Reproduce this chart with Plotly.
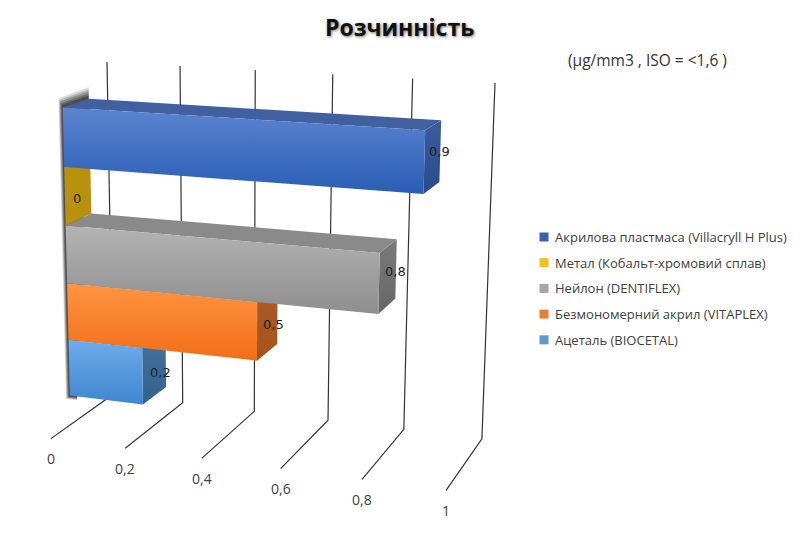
"""Faux-3D bar chart of solubility by denture material, drawn with Plotly."""

import numpy as np
import plotly.graph_objects as go

# Data, top bar first
MATERIALS = [
    "Акрилова пластмаса (Villacryll H Plus)",
    "Метал (Кобальт-хромовий сплав)",
    "Нейлон (DENTIFLEX)",
    "Безмономерний акрил (VITAPLEX)",
    "Ацеталь (BIOCETAL)",
]
SOLUBILITY = [0.9, 0.0, 0.8, 0.5, 0.2]
BAR_LABELS = ["0,9", "0", "0,8", "0,5", "0,2"]
TICK_VALUES = [0, 0.2, 0.4, 0.6, 0.8, 1]
TICK_LABELS = ["0", "0,2", "0,4", "0,6", "0,8", "1"]

TITLE = "Розчинність"
UNITS = "(µg/mm3 , ISO = <1,6 )"

# Colours per series: front top, front bottom, top face, side top, side bottom, legend
FRONT_TOP = ["#5b85d0", "#b8920f", "#b4b4b4", "#ff9442", "#6eaced"]
FRONT_BOTTOM = ["#2a5db4", "#b8920f", "#8e8e8e", "#f26e18", "#3f86cc"]
TOP_FACE = ["#40609f", "#9a7c10", "#8a8a8a", "#b5622a", "#44709f"]
SIDE_TOP = ["#3c5c9c", "#b8920f", "#7a7a7a", "#a85c28", "#44729f"]
SIDE_BOTTOM = ["#274b8c", "#b8920f", "#666666", "#a8521a", "#34628f"]
LEGEND_COLOURS = ["#3a62ad", "#f2c21a", "#a5a5a5", "#ed7d31", "#5b9bd5"]

# The view: where six corners of the axis box (value, height, depth) land on the page
BOX_CORNERS = [(0, 1, 1), (1, 1, 1), (0, 0, 1), (1, 0, 1), (0, 1, 0), (1, 1, 0)]
BOX_PIXELS = [(113, 395), (482, 438), (107, 62), (495, 83), (51, 438), (446, 491)]

# Where the bars sit inside the box
BARS_TOP, BARS_BOTTOM = 0.088, 0.913
BAR_FRONT, BAR_BACK = 0.30, 0.70

# Nudges for the bar labels, in pixels
LABEL_DX = [7, -1, 8, 6, 6]
LABEL_DY = [5, -8, 5, -1, -5]

# The page body keeps its default margin, so the figure starts this far in
PAGE_MARGIN = 8


def fit_view(corners, pixels):
    """Least-squares perspective matrix from box corners to page pixels."""
    rows, rhs = [], []
    for (a, b, c), (px, py) in zip(corners, pixels):
        rows.append([a, b, c, 1, 0, 0, 0, 0, -px * a, -px * b, -px * c])
        rows.append([0, 0, 0, 0, a, b, c, 1, -py * a, -py * b, -py * c])
        rhs += [px, py]
    m = np.linalg.lstsq(np.array(rows, float), np.array(rhs, float), rcond=None)[0]
    return np.append(m, 1.0).reshape(3, 4)


VIEW = fit_view(BOX_CORNERS, BOX_PIXELS)


def project(value, height, depth):
    u, w, t = VIEW @ np.array([value, height, depth, 1.0])
    return u / t, w / t


def face(points, colour=None, gradient=None):
    xy = [project(*p) for p in points] + [project(*points[0])]
    trace = go.Scatter(
        x=[p[0] for p in xy],
        y=[p[1] for p in xy],
        mode="lines",
        line=dict(width=0),
        fill="toself",
        hoverinfo="skip",
        showlegend=False,
    )
    if gradient:
        # gradient runs bottom to top on the reversed y axis
        trace.fillgradient = dict(
            type="vertical", colorscale=[[0, gradient[1]], [1, gradient[0]]]
        )
    else:
        trace.fillcolor = colour
    return trace


def bar_faces(i, value):
    band = (BARS_BOTTOM - BARS_TOP) / len(SOLUBILITY)
    s0, s1 = BARS_TOP + i * band, BARS_TOP + (i + 1) * band
    d0, d1 = BAR_FRONT, BAR_BACK
    side = face([(value, s0, d0), (value, s0, d1), (value, s1, d1), (value, s1, d0)],
                gradient=(SIDE_TOP[i], SIDE_BOTTOM[i]))
    top = face([(0, s0, d0), (value, s0, d0), (value, s0, d1), (0, s0, d1)], colour=TOP_FACE[i])
    front = face([(0, s0, d0), (value, s0, d0), (value, s1, d0), (0, s1, d0)],
                 gradient=(FRONT_TOP[i], FRONT_BOTTOM[i]))
    return [side, top, front] if value > 0 else [side]


fig = go.Figure()

# Axis lines: up the back wall and forward over the floor
for tick in TICK_VALUES:
    xy = [project(tick, 0, 1), project(tick, 1, 1), project(tick, 1, 0)]
    fig.add_trace(go.Scatter(
        x=[p[0] for p in xy], y=[p[1] for p in xy], mode="lines",
        line=dict(color="#333333", width=1.2), hoverinfo="skip", showlegend=False,
    ))

# Soft shadow along the left and top of the bar block, stacked to look blurred
for spread, alpha in [(0.011, 0.15), (0.009, 0.2), (0.007, 0.25), (0.005, 0.3), (0.003, 0.4)]:
    fig.add_trace(face(
        [(-spread, BARS_TOP - 2.2 * spread, BAR_FRONT),
         (-0.3 * spread, BARS_TOP - 3 * spread, BAR_BACK),
         (0, BARS_TOP - 3 * spread, BAR_BACK),
         (0.02, BARS_BOTTOM + spread, BAR_FRONT),
         (-spread, BARS_BOTTOM + spread, BAR_FRONT)],
        colour=f"rgba(30,30,30,{alpha})",
    ))

# Bottom bar first, so each higher bar covers the top face of the one below
for i in reversed(range(len(SOLUBILITY))):
    for trace in bar_faces(i, SOLUBILITY[i]):
        fig.add_trace(trace)

annotations = []

band = (BARS_BOTTOM - BARS_TOP) / len(SOLUBILITY)
for i, label in enumerate(BAR_LABELS):
    px, py = project(SOLUBILITY[i], BARS_TOP + (i + 0.5) * band, 0.5)
    annotations.append(dict(
        x=px, y=py, xref="x", yref="y", text=label, showarrow=False,
        xshift=LABEL_DX[i], yshift=LABEL_DY[i],
        font=dict(family="DejaVu Sans", size=13, color="#222222"),
    ))

for tick, label in zip(TICK_VALUES, TICK_LABELS):
    px, py = project(tick, 1, 0)
    annotations.append(dict(
        x=px, y=py, xref="x", yref="y", text=label, showarrow=False, yshift=-20,
        font=dict(family="Open Sans", size=14, color="#404040"),
    ))

# Legend column
legend_x = [544] * len(MATERIALS)
legend_y = [237 + 25.7 * i for i in range(len(MATERIALS))]
fig.add_trace(go.Scatter(
    x=legend_x, y=legend_y, mode="markers",
    marker=dict(symbol="square", size=9, color=LEGEND_COLOURS),
    hoverinfo="skip", showlegend=False,
))
for name, ly in zip(MATERIALS, legend_y):
    annotations.append(dict(
        x=553, y=ly, xref="x", yref="y", xanchor="left", text=name, showarrow=False,
        font=dict(family="Open Sans", size=13, color="#404040"),
    ))

annotations.append(dict(
    x=647, y=60, xref="x", yref="y", text=UNITS, showarrow=False,
    font=dict(family="Open Sans", size=15.5, color="#333333"),
))
annotations.append(dict(
    x=399.5, y=27, xref="x", yref="y", text=f"<b>{TITLE}</b>", showarrow=False,
    font=dict(family="Open Sans", size=23, color="#111111",
              shadow="1px 1px 3px rgba(0,0,0,0.55)"),
))

fig.update_layout(
    width=800 - PAGE_MARGIN,
    height=533 - PAGE_MARGIN,
    margin=dict(l=0, r=0, t=0, b=0),
    paper_bgcolor="white",
    plot_bgcolor="white",
    showlegend=False,
    xaxis=dict(range=[PAGE_MARGIN, 800], visible=False, fixedrange=True),
    yaxis=dict(range=[533, PAGE_MARGIN], visible=False, fixedrange=True),
    annotations=annotations,
)
fig.write_html("out.html")
